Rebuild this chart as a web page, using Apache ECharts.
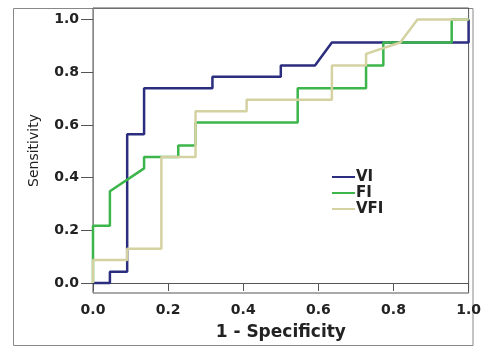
<!DOCTYPE html>
<html>
<head>
<meta charset="utf-8">
<script src="https://cdn.jsdelivr.net/npm/echarts@6/dist/echarts.min.js"></script>
<style>
html,body{margin:0;padding:0;background:#fff;}
#c{width:484px;height:347px;}
</style>
</head>
<body>
<div id="c"></div>
<script>
// ROC curve data (1 - Specificity, Sensitivity)
const viX  = [0, 0.045, 0.045, 0.091, 0.091, 0.136, 0.136, 0.318, 0.318, 0.5, 0.5, 0.591, 0.636, 1, 1];
const viY  = [0, 0, 0.043, 0.043, 0.565, 0.565, 0.739, 0.739, 0.783, 0.783, 0.826, 0.826, 0.913, 0.913, 1];
const fiX  = [0, 0, 0.045, 0.045, 0.136, 0.136, 0.227, 0.227, 0.273, 0.273, 0.545, 0.545, 0.727, 0.727, 0.773, 0.773, 0.955, 0.955, 1];
const fiY  = [0, 0.217, 0.217, 0.348, 0.435, 0.478, 0.478, 0.522, 0.522, 0.609, 0.609, 0.739, 0.739, 0.826, 0.826, 0.913, 0.913, 1, 1];
const vfiX = [0, 0, 0.091, 0.091, 0.182, 0.182, 0.273, 0.273, 0.409, 0.409, 0.636, 0.636, 0.727, 0.727, 0.818, 0.864, 1];
const vfiY = [0, 0.087, 0.087, 0.130, 0.130, 0.478, 0.478, 0.652, 0.652, 0.696, 0.696, 0.826, 0.826, 0.870, 0.913, 1, 1];
const seriesNames = ['VI', 'FI', 'VFI'];
const yTicks = [0, 0.2, 0.4, 0.6, 0.8, 1.0];
const xTicks = [0, 0.2, 0.4, 0.6, 0.8, 1.0];

const zip = (xs, ys) => xs.map((x, i) => [x, ys[i]]);
const colors = ['#2b2d7e', '#3cb54b', '#d5d2a2'];
const datasets = [zip(viX, viY), zip(fiX, fiY), zip(vfiX, vfiY)];

const chart = echarts.init(document.getElementById('c'), null, {renderer: 'canvas'});
const boldFont = {fontFamily: 'DejaVu Sans', fontWeight: 'bold', color: '#222'};
chart.setOption({
  animation: false,
  backgroundColor: '#fff',
  grid: {left: 93, top: 8, width: 380, height: 285, show: true, borderColor: '#555', borderWidth: 1, backgroundColor: 'transparent'},
  graphic: [{
    type: 'rect', silent: true, z: -1,
    shape: {x: 13.5, y: 8.5, width: 459.5, height: 337},
    style: {fill: 'none', stroke: '#888', lineWidth: 1}
  }],
  legend: {
    orient: 'vertical', left: 327, top: 164,
    icon: 'rect', itemWidth: 23, itemHeight: 2, itemGap: 0,
    data: seriesNames,
    textStyle: Object.assign({fontSize: 15, lineHeight: 16, padding: [0, 0, 0, -4]}, boldFont)
  },
  xAxis: {
    type: 'value', min: 0, max: 1, interval: 0.2,
    name: '1 - Specificity', nameLocation: 'middle', nameGap: 31,
    nameTextStyle: Object.assign({fontSize: 17}, boldFont),
    axisLine: {show: true, lineStyle: {color: '#555', width: 1}},
    axisTick: {show: true, length: 8, lineStyle: {color: '#555'}},
    axisLabel: Object.assign({fontSize: 14, margin: 10, formatter: v => xTicks.indexOf(v) >= 0 ? v.toFixed(1) : ''}, boldFont),
    splitLine: {show: false}
  },
  yAxis: {
    type: 'value', min: -0.038, max: 1.044,
    name: 'Sensitivity', nameLocation: 'middle', nameGap: 52,
    nameTextStyle: {fontFamily: 'DejaVu Sans', fontSize: 14, color: '#222'},
    axisLine: {show: true, lineStyle: {color: '#888', width: 1}},
    axisTick: {show: true, length: 12, customValues: yTicks, lineStyle: {color: '#555'}},
    axisLabel: Object.assign({fontSize: 14, margin: 14, customValues: yTicks, formatter: v => v.toFixed(1)}, boldFont),
    splitLine: {show: false}
  },
  series: datasets.map((d, i) => ({
    name: seriesNames[i], type: 'line', data: d,
    symbol: 'none', clip: false, z: 2 + i,
    lineStyle: {color: colors[i], width: 2.5},
    itemStyle: {color: colors[i]}
  }))
});
</script>
</body>
</html>
